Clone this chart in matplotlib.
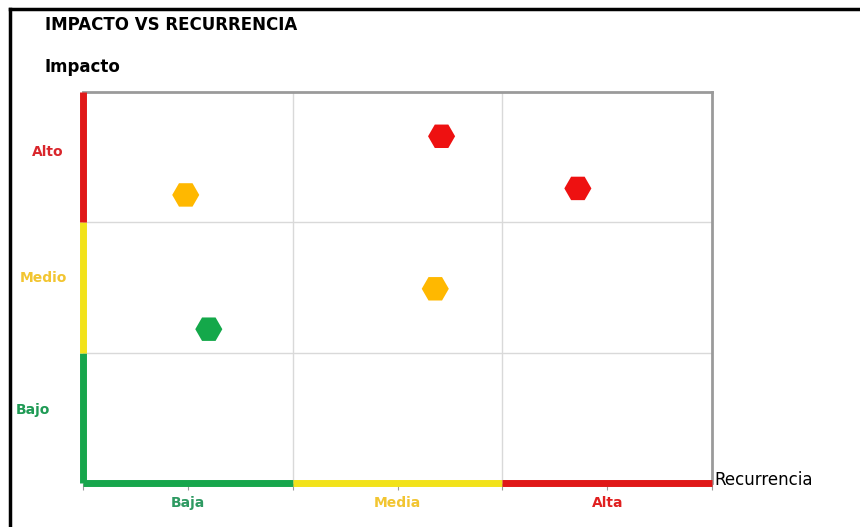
import matplotlib.pyplot as plt
from matplotlib.lines import Line2D

# Riesgos: recurrencia (x) e impacto (y), escala 0-3
recurrencia = [1.71, 2.36, 0.49, 1.68, 0.60]
impacto = [2.66, 2.26, 2.21, 1.49, 1.18]
colores_puntos = ['#ee1111', '#ee1111', '#ffb800', '#ffb800', '#14a84a']

niveles_x = ['Baja', 'Media', 'Alta']
niveles_y = ['Bajo', 'Medio', 'Alto']
colores_nivel = ['#17a64c', '#f2e21a', '#e01818']
colores_texto_y = ['#1f9b55', '#f2c531', '#d9262c']
colores_texto_x = ['#2e9a62', '#f2c531', '#e02020']
pos_texto_y = [(-0.24, 0.56), (-0.19, 1.57), (-0.17, 2.54)]

fig = plt.figure(figsize=(8.6, 5.27), dpi=100)
ax = fig.add_axes([0.0965, 0.0835, 0.7315, 0.742])

ax.set_xlim(0, 3)
ax.set_ylim(0, 3)

# cuadricula 3x3
for v in [1, 2]:
    ax.axvline(v, color='#d9d9d9', lw=1, zorder=1)
    ax.axhline(v, color='#d9d9d9', lw=1, zorder=1)

for s in ['top', 'right']:
    ax.spines[s].set_color('#9a9a9a')
    ax.spines[s].set_linewidth(2)
ax.spines['left'].set_visible(False)
ax.spines['bottom'].set_visible(False)

# ejes coloreados por nivel
for i in range(3):
    ax.plot([0, 0], [i, i + 1], color=colores_nivel[i],
            lw=5, solid_capstyle='butt', clip_on=False, zorder=4)
    ax.plot([i, i + 1], [0, 0], color=colores_nivel[i],
            lw=5, solid_capstyle='butt', clip_on=False, zorder=4)

ax.set_xticks([0, 0.5, 1, 1.5, 2, 2.5, 3])
ax.set_xticklabels([])
ax.tick_params(axis='x', length=5, color='#9a9a9a', direction='out')
ax.set_yticks([])

for i, nombre in enumerate(niveles_y):
    x, y = pos_texto_y[i]
    ax.text(x, y, nombre, color=colores_texto_y[i], fontsize=10,
            fontweight='bold', ha='center', va='center')
for i, nombre in enumerate(niveles_x):
    ax.text(i + 0.5, -0.15, nombre, color=colores_texto_x[i], fontsize=10,
            fontweight='bold', ha='center', va='center')

ax.scatter(recurrencia, impacto, c=colores_puntos, marker='H', s=380,
           edgecolors='none', zorder=5)

ax.text(3.01, 0.02, 'Recurrencia', fontsize=12, ha='left', va='center')
fig.text(0.052, 0.872, 'Impacto', fontsize=12, fontweight='bold', va='center')
fig.text(0.052, 0.952, 'IMPACTO VS RECURRENCIA', fontsize=12,
         fontweight='bold', va='center')

# marco
fig.add_artist(Line2D([0.012, 1.0], [0.983, 0.983], color='black', lw=2.5,
                      transform=fig.transFigure))
fig.add_artist(Line2D([0.012, 0.012], [0.0, 0.983], color='black', lw=2.5,
                      transform=fig.transFigure))

fig.savefig('out.png', dpi=100)
